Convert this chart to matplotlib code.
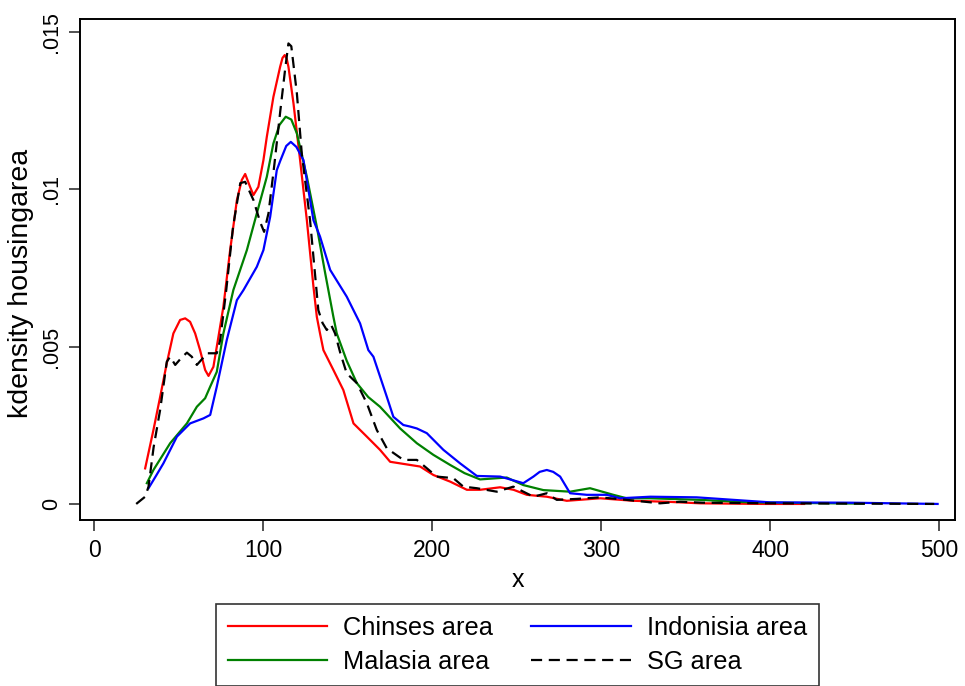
import matplotlib
matplotlib.use("Agg")
import matplotlib.pyplot as plt

plt.rcParams['font.family'] = ['Liberation Sans', 'DejaVu Sans']

# Kernel density estimates of housing area by community
chinese_x = [30, 34.9, 38.9, 42.8, 46.7, 50.7, 53.7, 56.6, 59.6, 62.5, 65.5, 67.5, 70.4,
             73.4, 76.3, 80.3, 84.3, 87.2, 89.2, 92.1, 94.1, 97, 100, 102, 105.9, 109.9,
             111.3, 112.6, 113.8, 114.8, 117.8, 121.7, 125.7, 129.6, 131.6, 133.5, 135.5,
             141.4, 147.3, 153.3, 161.2, 169, 175, 180.9, 186.8, 192.7, 200.6, 210.5,
             220.4, 228.2, 240.1, 248, 255.9, 267.7, 279.5, 299.3, 319, 338.7, 358.4,
             396, 420]
chinese_y = [0.00113, 0.00235, 0.00341, 0.00447, 0.00542, 0.00585, 0.0059, 0.00579,
             0.00542, 0.00489, 0.00426, 0.00407, 0.00436, 0.00532, 0.00627, 0.00807,
             0.00966, 0.0103, 0.01049, 0.01008, 0.00982, 0.01008, 0.01093, 0.01167,
             0.01294, 0.0139, 0.01418, 0.01427, 0.01415, 0.0139, 0.01273, 0.01093,
             0.00902, 0.00691, 0.00595, 0.00542, 0.00489, 0.00426, 0.00362, 0.00256,
             0.00214, 0.00172, 0.00134, 0.00129, 0.00124, 0.00119, 0.00092, 0.00071,
             0.00045, 0.00045, 0.00053, 0.00045, 0.00029, 0.00023, 0.0001, 0.00018,
             0.0001, 0.00007, 0.00002, 0.0, 0.0]

malay_x = [31, 34.9, 44.8, 54.7, 60.6, 65.5, 68.5, 72.4, 76.3, 82.2, 90.2, 96.1, 102,
           105.9, 109.5, 113.2, 116.5, 119.8, 125.7, 131.6, 136.5, 141.4, 143.4, 149.3,
           155.3, 162, 169, 180.9, 190.8, 200.6, 210.5, 219, 228.2, 244, 253.8, 265.7,
           281.5, 293.3, 307.1, 315, 329, 358.4, 388, 437, 455]
malay_y = [0.00066, 0.00108, 0.00193, 0.00256, 0.00309, 0.00336, 0.00373, 0.0042,
           0.00542, 0.0068, 0.00807, 0.00924, 0.0104, 0.01146, 0.01205, 0.01231,
           0.01222, 0.01178, 0.0104, 0.00881, 0.00735, 0.00595, 0.00542, 0.00455,
           0.00384, 0.00340, 0.00309, 0.0024, 0.00193, 0.00156, 0.00124, 0.00098,
           0.00078, 0.00084, 0.0006, 0.00044, 0.00039, 0.0005, 0.00029, 0.00018,
           0.00018, 0.00013, 0.00005, 0.00002, 0.00001]

indo_x = [32, 36.5, 40.8, 48.8, 56.6, 64.5, 68.5, 72.4, 78.3, 84.3, 88.2, 96.1, 100,
          104, 107.9, 109.9, 113.5, 116.2, 119.5, 123.7, 129.6, 133.5, 139.5, 149.3,
          157.2, 162.1, 165.1, 173, 176.9, 182.8, 186.8, 190.8, 196.7, 206.5, 216.4,
          226.3, 240.1, 253.8, 259.8, 263.5, 267.7, 271.5, 275.6, 281.5, 291.4, 303.2,
          311.1, 329, 356.4, 400, 447, 499]
indo_y = [0.0005, 0.0009, 0.00129, 0.00214, 0.00256, 0.00272, 0.00283, 0.00373,
          0.00521, 0.00648, 0.0068, 0.00754, 0.00807, 0.00913, 0.01061, 0.0109,
          0.01138, 0.01151, 0.01135, 0.01093, 0.00902, 0.0085, 0.00744, 0.00659,
          0.00574, 0.00489, 0.00468, 0.00341, 0.00277, 0.00251, 0.00246, 0.0024,
          0.00225, 0.00172, 0.00129, 0.00089, 0.00087, 0.00066, 0.00087, 0.00102,
          0.00108, 0.00102, 0.00087, 0.00034, 0.00029, 0.00029, 0.00018, 0.00023,
          0.00021, 0.00005, 0.00004, 0.0]

sg_x = [24.7, 30, 32, 35, 38.9, 42.8, 44.8, 47.8, 51.7, 54.7, 57.6, 60.6, 63.6, 66.5,
        72.4, 74.4, 78, 82, 86.3, 89.2, 94.1, 98, 100.4, 103, 106.5, 110, 112.8, 114.8,
        116.5, 119.8, 122.7, 127.6, 132.5, 135, 137.5, 140, 142.4, 145.5, 149.3, 155.3,
        161.2, 167.1, 173, 182.8, 190.8, 202.6, 212.4, 218.3, 226.3, 238.1, 247.9,
        259.8, 267.7, 273.6, 285.4, 299.3, 315, 334.7, 346.6, 360, 400, 450, 497]
sg_y = [0.0, 0.00023, 0.00055, 0.0018, 0.003, 0.00452, 0.00468, 0.00442, 0.00466,
        0.00481, 0.00468, 0.00442, 0.0046, 0.00479, 0.00479, 0.00521, 0.0068, 0.0088,
        0.0102, 0.01024, 0.00966, 0.00897, 0.00865, 0.00924, 0.0108, 0.0125, 0.0138,
        0.01464, 0.01455, 0.01305, 0.01114, 0.00902, 0.00616, 0.00575, 0.00553,
        0.0057, 0.00542, 0.0048, 0.00415, 0.00384, 0.0032, 0.00235, 0.00177, 0.0014,
        0.0014, 0.00087, 0.00082, 0.00055, 0.0005, 0.00039, 0.00055, 0.00023, 0.00034,
        0.00013, 0.00016, 0.00021, 0.00013, 0.00002, 0.00007, 0.00004, 0.00002, 0.00001,
        0.0]

x_ticks = [0, 100, 200, 300, 400, 500]
y_ticks = [0, 0.005, 0.01, 0.015]
y_tick_labels = ["0", ".005", ".01", ".015"]

fig = plt.figure(figsize=(9.65, 6.86), dpi=100)
ax = fig.add_axes([0.083, 0.242, 0.907, 0.730])

ax.plot(chinese_x, chinese_y, color="#ff0000", lw=1.6, label="Chinses area")
ax.plot(malay_x, malay_y, color="#008000", lw=1.6, label="Malasia area")
ax.plot(indo_x, indo_y, color="#0000ff", lw=1.6, label="Indonisia area")
ax.plot(sg_x, sg_y, color="black", lw=1.6, linestyle=(0, (5, 3)), label="SG area")

ax.set_xlim(-8.5, 509.5)
ax.set_ylim(-0.00051, 0.01541)

ax.set_xticks(x_ticks)
ax.set_xticklabels([str(t) for t in x_ticks], fontsize=16.5)
ax.set_yticks(y_ticks)
ax.set_yticklabels(y_tick_labels, fontsize=15.5, rotation=90, va="center")

ax.tick_params(axis="both", direction="out", length=8, width=1.2, color="#333333")
ax.tick_params(axis="x", pad=6)
ax.tick_params(axis="y", pad=5)

for s in ax.spines.values():
    s.set_linewidth(1.4)
    s.set_color("black")

ax.set_xlabel("x", fontsize=18, labelpad=4)
ax.set_ylabel("kdensity housingarea", fontsize=20.5)
ax.yaxis.set_label_coords(-0.053, 0.473)

leg = fig.legend(loc="center", bbox_to_anchor=(0.5363, 0.0600), ncol=2, fontsize=18.3,
                 frameon=True, fancybox=False, edgecolor="black", handlelength=3.9,
                 handletextpad=0.65, columnspacing=1.5, labelspacing=0.42,
                 borderpad=0.45)
leg.get_frame().set_linewidth(1.2)

fig.savefig("out.png", dpi=100, facecolor="white")
